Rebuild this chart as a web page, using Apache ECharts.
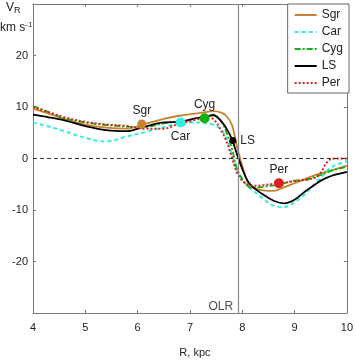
<!DOCTYPE html>
<html><head><meta charset="utf-8">
<script src="https://cdn.jsdelivr.net/npm/echarts@6/dist/echarts.min.js"></script>
<style>html,body{margin:0;padding:0;background:#fff}#c{width:356px;height:363px}</style>
</head><body><div id="c"></div>
<script>
const R   = [4.0,4.3,4.6,5.0,5.4,5.8,6.1,6.5,6.8,7.1,7.3,7.45,7.6,7.7,7.8,7.9,8.0,8.1,8.2,8.4,8.6,8.8,9.0,9.2,9.4,9.5,9.6,9.7,9.8,10.0];
const Sgr = [9.7,8.7,7.7,6.6,6.0,5.8,6.6,7.7,8.3,8.7,9.0,9.2,8.9,8.2,6.6,2.3,-1.4,-4.5,-5.6,-6.2,-6.3,-5.6,-4.8,-4.0,-3.2,-2.9,-2.6,-2.3,-2.0,-1.4];
const Car = [7.0,6.2,5.3,4.0,3.3,4.3,5.0,6.1,6.8,7.0,6.9,6.5,5.6,3.8,0.8,-2.2,-4.0,-5.3,-6.2,-7.8,-9.2,-9.4,-8.5,-6.9,-4.7,-3.7,-2.6,-1.7,-1.2,-0.5];
const Cyg = [10.2,9.0,7.8,7.0,6.5,6.2,6.1,6.8,7.2,7.6,8.0,8.5,7.2,5.0,2.0,-2.0,-4.0,-5.3,-5.7,-5.5,-5.2,-4.8,-4.3,-4.2,-3.5,-3.2,-2.8,-2.4,-2.1,-1.6];
const LS  = [8.5,8.0,7.4,6.3,5.5,5.3,6.1,7.0,7.1,7.8,8.2,8.4,7.2,5.8,3.8,0.8,-2.0,-4.3,-5.5,-7.0,-8.2,-8.7,-8.0,-6.4,-5.0,-4.3,-3.8,-3.4,-3.1,-2.6];
const Per = [10.0,9.0,8.0,7.1,6.6,6.3,5.8,5.8,6.8,7.5,8.3,7.6,5.4,3.3,0.3,-2.8,-4.3,-5.0,-5.3,-5.2,-4.9,-4.7,-4.4,-4.1,-3.7,-2.8,-1.0,-0.1,0,0];

const armNames  = ['Sgr','Car','Cyg','LS','Per'];
const armR      = [6.08, 6.82, 7.28, 7.82, 8.70];
const armV      = [6.7, 7.0, 7.8, 3.5, -4.8];
const OLR_R = 7.92;
const yTicks = [-30,-20,-10,0,10,20,30];

const colors = {Sgr:'#c8822e', Car:'#33eedd', Cyg:'#10b010', LS:'#000000', Per:'#e02020'};
const styles = {Sgr:'solid', Car:[4,3], Cyg:[6,2,2,2], LS:'solid', Per:[2,2]};
const vals = {Sgr, Car, Cyg, LS, Per};
const labelPos = {Sgr:'top', Car:'bottom', Cyg:'top', LS:'right', Per:'top'};
const dotSize = {Sgr:9, Car:10, Cyg:10, LS:7, Per:10};

const font = 'Liberation Sans, Arial, sans-serif';
const chart = echarts.init(document.getElementById('c'), null, {renderer:'canvas'});

const series = armNames.map(n => ({
  name: n, type: 'line', xAxisIndex:0, yAxisIndex:0,
  data: R.map((r,i)=>[r, vals[n][i]]),
  smooth: 0.35, symbol: 'none', showSymbol:false,
  lineStyle: {color: colors[n], width: n==='Car'||n==='Per'?2:1.8, type: styles[n]},
  itemStyle: {color: colors[n]}, z: 3
}));
series[0].markLine = {
  silent:true, symbol:'none', label:{show:false},
  data:[
    {yAxis:0, lineStyle:{color:'#333', type:[4,3], width:1}},
    {xAxis:OLR_R, lineStyle:{color:'#888', type:'solid', width:1.2}}
  ]
};
armNames.forEach((n,i)=>{
  series.push({
    type:'scatter', name:n+'_pt', data:[[armR[i], armV[i]]],
    symbolSize: dotSize[n], itemStyle:{color: colors[n], opacity:1}, z:5,
    label:{show:true, formatter:n, position:labelPos[n], distance: n==='LS'?4:3,
      color:'#222', fontSize:12, fontFamily:font}
  });
});
series.push({type:'scatter', name:'olr', data:[[OLR_R, -28.8]], symbolSize:0,
  label:{show:true, formatter:'OLR', position:'left', distance:5, color:'#222', fontSize:12, fontFamily:font}});

chart.setOption({
  animation:false,
  grid:{left:33, right:7, top:4, bottom:46},
  legend:{
    data: armNames, orient:'vertical', right:7, top:4,
    backgroundColor:'#fff', borderColor:'#666', borderWidth:1, borderRadius:0,
    padding:[5,6,4,6], itemGap:5, itemWidth:22, itemHeight:12,
    itemStyle:{opacity:0},
    textStyle:{fontSize:12, fontFamily:font, color:'#222'}
  },
  xAxis:[
    {type:'value', min:4, max:10, interval:1, position:'bottom',
     name:'R, kpc', nameLocation:'middle', nameGap:34,
     nameTextStyle:{fontSize:11, fontFamily:font, color:'#222', padding:[0,0,0,10]},
     axisLine:{onZero:false, lineStyle:{color:'#777'}},
     axisTick:{inside:true, length:3, lineStyle:{color:'#777'}},
     axisLabel:{fontSize:11, fontFamily:font, color:'#222', margin:9},
     splitLine:{show:false}},
    {type:'value', min:4, max:10, interval:1, position:'top',
     axisLine:{onZero:false, lineStyle:{color:'#777'}},
     axisTick:{inside:true, length:3, lineStyle:{color:'#777'}},
     axisLabel:{show:false}, splitLine:{show:false}}
  ],
  yAxis:[
    {type:'value', min:-30, max:30, interval:10, position:'left',
     axisLine:{onZero:false, lineStyle:{color:'#777'}},
     axisTick:{inside:true, length:3, lineStyle:{color:'#777'}},
     axisLabel:{fontSize:11, fontFamily:font, color:'#222', margin:5,
       formatter: v => (v===yTicks[0]||v===yTicks[yTicks.length-1]) ? '' : String(v)},
     splitLine:{show:false}},
    {type:'value', min:-30, max:30, interval:10, position:'right',
     axisLine:{onZero:false, lineStyle:{color:'#777'}},
     axisTick:{inside:true, length:3, lineStyle:{color:'#777'}},
     axisLabel:{show:false}, splitLine:{show:false}}
  ],
  graphic:[
    {type:'text', left:6, top:2, style:{
      text:'{v|V}{s|R}', rich:{v:{fontSize:12, fontFamily:font, fill:'#222'},
        s:{fontSize:9, fontFamily:font, fill:'#222', padding:[6,0,0,0]}}}},
    {type:'text', left:0, top:21, style:{
      text:'{k|km s}{e|-1}', rich:{k:{fontSize:12, fontFamily:font, fill:'#222'},
        e:{fontSize:8, fontFamily:font, fill:'#222', padding:[0,0,6,0]}}}}
  ],
  series: series
});
</script></body></html>
